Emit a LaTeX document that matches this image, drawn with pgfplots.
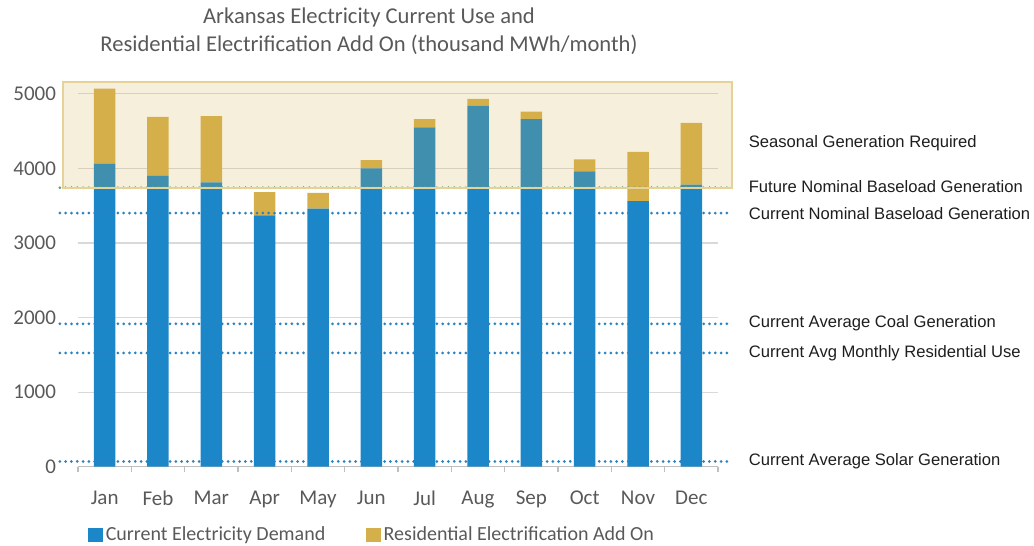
\documentclass[border=0pt]{standalone}
\usepackage{pgfplots}
\pgfplotsset{compat=1.18}
\usepackage{fontspec}
\setmainfont{Carlito}
\newfontfamily\arial{Liberation Sans}
\definecolor{barblue}{RGB}{27,135,201}
\definecolor{bargold}{RGB}{212,175,74}
\definecolor{shadeborder}{RGB}{228,210,150}
\definecolor{dotblue}{RGB}{40,130,195}
\definecolor{dotgreen}{RGB}{90,160,115}
\definecolor{gridgray}{RGB}{217,217,217}
\definecolor{axisgray}{RGB}{191,191,191}
\definecolor{labelgray}{RGB}{89,89,89}
\definecolor{notetext}{RGB}{30,30,30}
\begin{document}
\begin{tikzpicture}
\useasboundingbox (0,0) rectangle (517pt,273pt);
\tikzset{refline/.style={line width=1.5pt, line cap=round, dash pattern=on 0pt off 2.9pt}}
\begin{axis}[
  at={(39pt,39.65pt)}, anchor=south west,
  scale only axis, width=320pt, height=193.95pt,
  xmin=-0.5, xmax=11.5, ymin=0, ymax=5200,
  clip=false,
  ybar stacked, bar width=10.75pt,
  xtick={0,...,11},
  xticklabels={Jan,Feb,Mar,Apr,May,Jun,Jul,Aug,Sep,Oct,Nov,Dec},
  minor xtick={-0.5,0.5,...,11.5},
  ytick={0,1000,2000,3000,4000,5000},
  ymajorgrids, grid style={gridgray, line width=0.6pt},
  axis x line*=bottom, axis y line*=left,
  y axis line style={draw=none},
  x axis line style={draw=axisgray, line width=0.6pt, -},
  major tick length=0pt, minor tick length=2.5pt, tick align=outside,
  minor tick style={axisgray, line width=0.6pt},
  /pgf/number format/assume math mode=true,
  /pgf/number format/set thousands separator={},
  ticklabel style={font=\fontsize{10.5}{12}\selectfont, text=labelgray},
  yticklabel style={xshift=-7.5pt},
  xticklabel style={yshift=-8.5pt},
  legend style={at={(0.0156,-0.176)}, anchor=west, draw=none, fill=none,
    inner sep=0pt, font=\fontsize{10}{12}\selectfont, text=labelgray,
    legend columns=2, /tikz/every even column/.append style={column sep=19pt},
    nodes={inner sep=1.5pt}},
  legend cell align=left,
  legend image code/.code={\fill[#1, draw=none] (0pt,-3.6pt) rectangle (7.2pt,3.6pt);},
]
% reference lines (behind bars)
\draw[refline, dotblue] (axis cs:-0.84,3400) -- (axis cs:11.73,3400);
\draw[refline, dotblue] (axis cs:-0.84,1915) -- (axis cs:11.73,1915);
\draw[refline, dotblue] (axis cs:-0.84,1525) -- (axis cs:11.73,1525);
\draw[refline, dotblue] (axis cs:-0.84,70) -- (axis cs:11.73,70);
\draw[refline, dotgreen] (axis cs:-0.84,3740) -- (axis cs:11.73,3740);

\addplot[fill=barblue, draw=none] coordinates {
 (0,4060) (1,3900) (2,3810) (3,3370) (4,3460) (5,4000)
 (6,4550) (7,4840) (8,4660) (9,3960) (10,3560) (11,3780)};
\addlegendentry{Current Electricity Demand}
\addplot[fill=bargold, draw=none] coordinates {
 (0,1010) (1,790) (2,890) (3,310) (4,210) (5,110)
 (6,110) (7,90) (8,100) (9,160) (10,660) (11,830)};
\addlegendentry{Residential Electrification Add On}

\coordinate (shadeSW) at (axis cs:-0.78,3740);
\coordinate (shadeNE) at (axis cs:11.76,5156);

% annotations
\tikzset{note/.style={anchor=west, inner sep=0pt, text=notetext, font=\arial\fontsize{8.3}{10}\selectfont}}
\node[note] at (axis cs:12.07,4339) {Seasonal Generation Required};
\node[note] at (axis cs:12.07,3750) {Future Nominal Baseload Generation};
\node[note] at (axis cs:12.07,3400) {Current Nominal Baseload Generation};
\node[note] at (axis cs:12.07,1927) {Current Average Coal Generation};
\node[note] at (axis cs:12.07,1525) {Current Avg Monthly Residential Use};
\node[note] at (axis cs:12.07,76) {Current Average Solar Generation};
\end{axis}
% seasonal generation band, over the bars
\fill[bargold, fill opacity=0.2] (shadeSW) rectangle (shadeNE);
\draw[shadeborder, line width=0.8pt] (shadeSW) rectangle (shadeNE);
\node[align=center, text=labelgray, font=\fontsize{11.3}{14}\selectfont] at (184.5pt,257.5pt)
 {Arkansas Electricity Current Use and\\Residential Electrification Add On (thousand MWh/month)};
\end{tikzpicture}
\end{document}
